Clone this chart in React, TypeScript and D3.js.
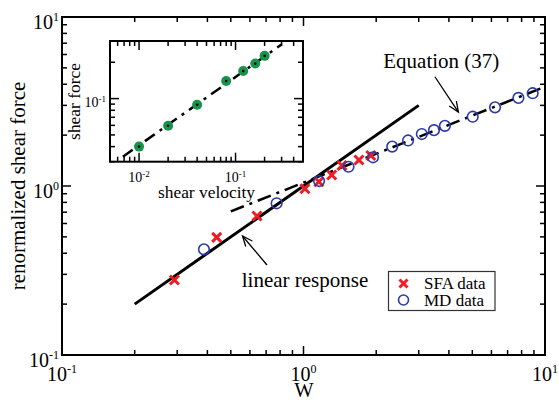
import React from 'react';
import * as d3 from 'd3';

// ---- main panel data ----
const SFA_W = [0.292, 0.437, 0.642, 1.014, 1.157, 1.309, 1.443, 1.697, 1.9];
const SFA_F = [0.278, 0.497, 0.664, 0.963, 1.06, 1.162, 1.322, 1.425, 1.515];
const MD_W = [0.387, 0.774, 1.16, 1.536, 1.94, 2.33, 2.71, 3.09, 3.47, 3.85, 5.02, 6.21, 7.76, 8.89];
const MD_F = [0.422, 0.79, 1.07, 1.3, 1.479, 1.71, 1.86, 2.03, 2.14, 2.27, 2.57, 2.92, 3.32, 3.54];
const LINEAR_W = [0.2, 3];
const LINEAR_F = [0.2, 3];
const EQ37_W = [0.5, 9.9];
const EQ37_F = [0.707, 3.844];
const MAIN_TICK_EXP = ['-1', '0', '1'];
const MAIN_TICKS = [0.1, 1, 10];

// ---- inset data ----
const INSET_V = [0.01, 0.02, 0.04, 0.08, 0.12, 0.16, 0.2];
const INSET_S = [0.04, 0.0596, 0.089, 0.14, 0.169, 0.195, 0.226];
const INSET_FIT_V = [0.0068, 0.3];
const INSET_FIT_S = [0.033, 0.281];
const INSET_X_TICKS = [0.01, 0.1];
const INSET_X_EXP = ['-2', '-1'];
const INSET_Y_TICKS = [0.1];
const INSET_Y_EXP = ['-1'];

const FONT = "'Liberation Serif', 'Times New Roman', Times, serif";

function minorTicks(lo: number, hi: number): number[] {
  const out: number[] = [];
  for (let e = Math.floor(Math.log10(lo)); e <= Math.ceil(Math.log10(hi)); e++) {
    for (let k = 2; k <= 9; k++) {
      const v = k * Math.pow(10, e);
      if (v >= lo * 0.9999 && v <= hi * 1.0001) out.push(v);
    }
  }
  return out;
}

function arrowHead(x1: number, y1: number, x2: number, y2: number, len: number, ang: number) {
  const a = Math.atan2(y2 - y1, x2 - x1);
  const p1 = [x2 - len * Math.cos(a - ang), y2 - len * Math.sin(a - ang)];
  const p2 = [x2 - len * Math.cos(a + ang), y2 - len * Math.sin(a + ang)];
  return `${p1[0]},${p1[1]} ${x2},${y2} ${p2[0]},${p2[1]}`;
}

function Frame({ x, y, minorX, minorY, majX, majY, maj = 9, min = 5 }: any) {
  const [x0, x1] = x.range();
  const [y0, y1] = y.range(); // y0 bottom, y1 top
  const lines: any[] = [];
  majX.forEach((v: number, i: number) => {
    const px = x(v);
    lines.push(<line key={'bx' + i} x1={px} x2={px} y1={y0} y2={y0 - maj} />);
    lines.push(<line key={'tx' + i} x1={px} x2={px} y1={y1} y2={y1 + maj} />);
  });
  minorX.forEach((v: number, i: number) => {
    const px = x(v);
    lines.push(<line key={'bmx' + i} x1={px} x2={px} y1={y0} y2={y0 - min} />);
    lines.push(<line key={'tmx' + i} x1={px} x2={px} y1={y1} y2={y1 + min} />);
  });
  majY.forEach((v: number, i: number) => {
    const py = y(v);
    lines.push(<line key={'ly' + i} x1={x0} x2={x0 + maj} y1={py} y2={py} />);
    lines.push(<line key={'ry' + i} x1={x1} x2={x1 - maj} y1={py} y2={py} />);
  });
  minorY.forEach((v: number, i: number) => {
    const py = y(v);
    lines.push(<line key={'lmy' + i} x1={x0} x2={x0 + min} y1={py} y2={py} />);
    lines.push(<line key={'rmy' + i} x1={x1} x2={x1 - min} y1={py} y2={py} />);
  });
  return (
    <g stroke="#000" strokeWidth={1.5}>
      {lines}
      <rect x={x0} y={y1} width={x1 - x0} height={y0 - y1} fill="none" strokeWidth={2} />
    </g>
  );
}

export default function App() {
  const x = d3.scaleLog().domain([0.1, 10]).range([62, 545]);
  const y = d3.scaleLog().domain([0.1, 10]).range([355, 17]);
  const xi = d3.scaleLog().domain([0.005, 0.5]).range([110, 303]);
  const yi = d3.scaleLog().domain([0.03, 0.3]).range([161.7, 41]);

  const line = d3.line<[number, number]>();
  const linPath = line(LINEAR_W.map((w, i) => [x(w), y(LINEAR_F[i])]));
  const eqPath = line(EQ37_W.map((w, i) => [x(w), y(EQ37_F[i])]));
  const fitPath = line(INSET_FIT_V.map((v, i) => [xi(v), yi(INSET_FIT_S[i])]));

  // annotations (data coordinates)
  const eqArrow = [x(3.5), y(4.43), x(4.38), y(2.74)];
  const linArrow = [x(0.706), y(0.341), x(0.559), y(0.506)];

  const red = '#ee1c24';
  const blue = '#2b3aa8';
  const green = '#17944a';

  const xCross = (cx: number, cy: number, k: string, s = 4.5) => (
    <g key={k} stroke={red} strokeWidth={3}>
      <line x1={cx - s} y1={cy - s} x2={cx + s} y2={cy + s} />
      <line x1={cx - s} y1={cy + s} x2={cx + s} y2={cy - s} />
    </g>
  );

  return (
    <svg width={559} height={400} style={{ position: 'absolute', left: 0, top: 0, background: '#fff' }} fontFamily={FONT}>
      <rect width={559} height={400} fill="#fff" />
      {/* main frame */}
      <Frame x={x} y={y} majX={MAIN_TICKS} majY={MAIN_TICKS} minorX={minorTicks(0.1, 10)} minorY={minorTicks(0.1, 10)} />
      {/* main tick labels */}
      {MAIN_TICKS.map((v, i) => (
        <text key={'xl' + i} x={x(v)} y={381} textAnchor="middle" fontSize={20}>
          10<tspan fontSize={12} dy={-8}>{MAIN_TICK_EXP[i]}</tspan>
        </text>
      ))}
      {MAIN_TICKS.map((v, i) => (
        <text key={'yl' + i} x={59} y={y(v) + 11.5} textAnchor="end" fontSize={20}>
          10<tspan fontSize={12} dy={-8}>{MAIN_TICK_EXP[i]}</tspan>
        </text>
      ))}
      <text x={304} y={396.5} textAnchor="middle" fontSize={20.5}>W</text>
      <text transform="translate(24.5,186) rotate(-90)" textAnchor="middle" fontSize={21}>renormalized shear force</text>

      {/* lines */}
      <path d={linPath || ''} stroke="#000" strokeWidth={3} fill="none" />
      <path d={eqPath || ''} stroke="#000" strokeWidth={2.5} fill="none" strokeDasharray="14,6,3,6" />

      {/* markers */}
      {SFA_W.map((w, i) => xCross(x(w), y(SFA_F[i]), 'sfa' + i))}
      {MD_W.map((w, i) => (
        <circle key={'md' + i} cx={x(w)} cy={y(MD_F[i])} r={5.3} fill="none" stroke={blue} strokeWidth={1.6} />
      ))}

      {/* annotations */}
      <g stroke="#000" strokeWidth={1.3} fill="none">
        <line x1={eqArrow[0]} y1={eqArrow[1]} x2={eqArrow[2]} y2={eqArrow[3]} />
        <polyline points={arrowHead(eqArrow[0], eqArrow[1], eqArrow[2], eqArrow[3], 11, 0.4)} />
        <line x1={linArrow[0]} y1={linArrow[1]} x2={linArrow[2]} y2={linArrow[3]} />
        <polyline points={arrowHead(linArrow[0], linArrow[1], linArrow[2], linArrow[3], 11, 0.4)} />
      </g>
      <text x={x(2.14)} y={y(4.99)} fontSize={21}>Equation (37)</text>
      <text x={x(0.555)} y={y(0.254)} fontSize={21}>linear response</text>

      {/* legend */}
      <rect x={388.5} y={271.5} width={106.5} height={39} fill="#fff" stroke="#333" strokeWidth={1.2} />
      {xCross(403.5, 283.5, 'legx', 4)}
      <text x={424} y={289} fontSize={17}>SFA data</text>
      <circle cx={403.5} cy={300} r={5} fill="none" stroke={blue} strokeWidth={1.6} />
      <text x={424} y={306} fontSize={17}>MD data</text>

      {/* inset */}
      <rect x={110} y={41} width={193} height={120.7} fill="#fff" />
      <Frame x={xi} y={yi} majX={INSET_X_TICKS} majY={INSET_Y_TICKS} minorX={minorTicks(0.005, 0.5)} minorY={minorTicks(0.03, 0.3)} />
      <path d={fitPath || ''} stroke="#000" strokeWidth={2.5} fill="none" strokeDasharray="12,6,3,6" />
      {INSET_V.map((v, i) => (
        <g key={'in' + i}>
          <circle cx={xi(v)} cy={yi(INSET_S[i])} r={5} fill={green} />
          <circle cx={xi(v)} cy={yi(INSET_S[i])} r={1.3} fill="#000" />
        </g>
      ))}
      {INSET_X_TICKS.map((v, i) => (
        <text key={'ixl' + i} x={xi(v)} y={181.5} textAnchor="middle" fontSize={14}>
          10<tspan fontSize={9} dy={-5}>{INSET_X_EXP[i]}</tspan>
        </text>
      ))}
      {INSET_Y_TICKS.map((v, i) => (
        <text key={'iyl' + i} x={106} y={yi(v) + 8} textAnchor="end" fontSize={14}>
          10<tspan fontSize={9} dy={-5}>{INSET_Y_EXP[i]}</tspan>
        </text>
      ))}
      <text x={206.5} y={198} textAnchor="middle" fontSize={17.4}>shear velocity</text>
      <text transform="translate(80,101.5) rotate(-90)" textAnchor="middle" fontSize={17.4}>shear force</text>
    </svg>
  );
}
